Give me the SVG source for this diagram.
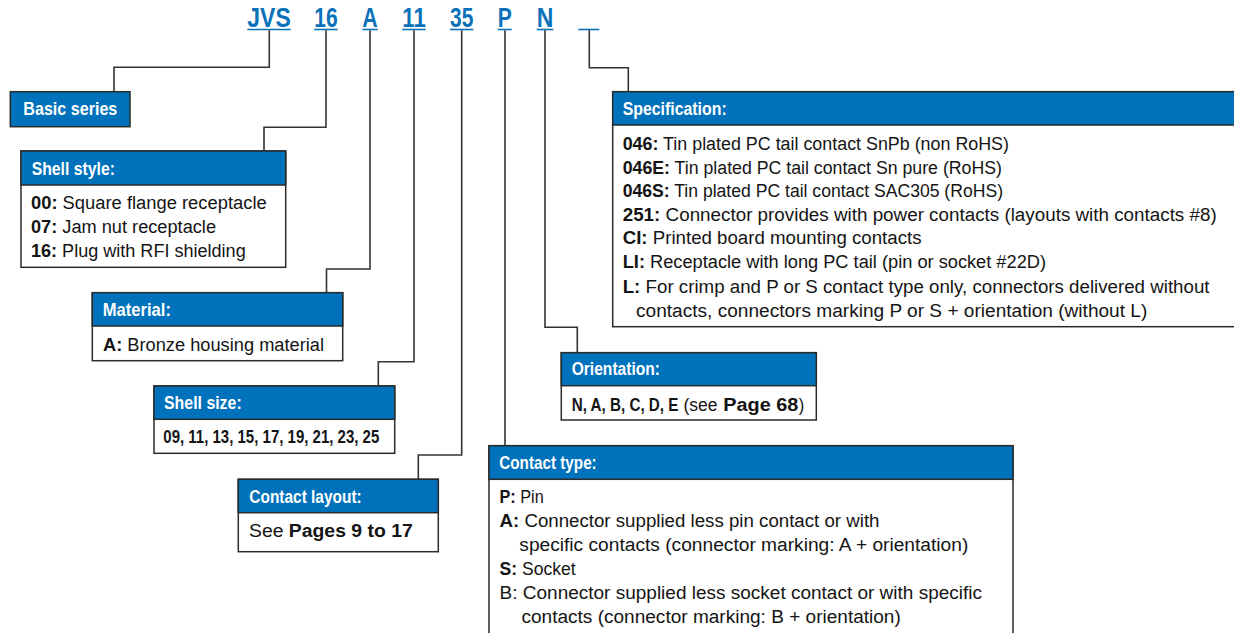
<svg xmlns="http://www.w3.org/2000/svg" width="1234" height="633" viewBox="0 0 1234 633">
<style>
.bg{fill:#fff}
.box{fill:#fff;stroke:#2a2a2a;stroke-width:1.5}
.hdr{fill:#0071bb;stroke:#2a2a2a;stroke-width:1.5}
.ht{font-family:"Liberation Sans",Arial,sans-serif;font-weight:bold;font-size:18.5px;fill:#fff}
.bt{font-family:"Liberation Sans",Arial,sans-serif;font-size:18px;fill:#141414}
.b{font-weight:bold}
.top{font-family:"Liberation Sans",Arial,sans-serif;font-weight:bold;font-size:27px;fill:#0b72ba}
.ul{stroke:#0b72ba;stroke-width:1.6}
.conn{fill:none;stroke:#333;stroke-width:1.6}
</style>
<rect class="bg" x="0" y="0" width="1234" height="633"/>

<g id="code">
  <g id="code-jvs"><text class="top" x="247.3" y="26.7" textLength="43.4" lengthAdjust="spacingAndGlyphs">JVS</text><line class="ul" x1="247.3" y1="29.5" x2="290.7" y2="29.5"/></g>
  <g id="code-16"><text class="top" x="314.3" y="26.7" textLength="23.4" lengthAdjust="spacingAndGlyphs">16</text><line class="ul" x1="314.3" y1="29.5" x2="337.7" y2="29.5"/></g>
  <g id="code-a"><text class="top" x="362.3" y="26.7" textLength="15.4" lengthAdjust="spacingAndGlyphs">A</text><line class="ul" x1="362.3" y1="29.5" x2="377.7" y2="29.5"/></g>
  <g id="code-11"><text class="top" x="402.3" y="26.7" textLength="23.4" lengthAdjust="spacingAndGlyphs">11</text><line class="ul" x1="402.3" y1="29.5" x2="425.7" y2="29.5"/></g>
  <g id="code-35"><text class="top" x="450" y="26.7" textLength="23.3" lengthAdjust="spacingAndGlyphs">35</text><line class="ul" x1="450" y1="29.5" x2="473.3" y2="29.5"/></g>
  <g id="code-p"><text class="top" x="497.7" y="26.7" textLength="14" lengthAdjust="spacingAndGlyphs">P</text><line class="ul" x1="497.7" y1="29.5" x2="511.7" y2="29.5"/></g>
  <g id="code-n"><text class="top" x="536.7" y="26.7" textLength="16.6" lengthAdjust="spacingAndGlyphs">N</text><line class="ul" x1="536.7" y1="29.5" x2="553.3" y2="29.5"/></g>
  <g id="code-blank"><line class="ul" x1="578.3" y1="29.5" x2="599.3" y2="29.5"/></g>
</g>

<g id="connectors">
  <path class="conn" d="M269.3,30.3 V67.3 H114 V91.7"/>
  <path class="conn" d="M326,30.3 V127.3 H264 V151"/>
  <path class="conn" d="M370,30.3 V269 H326.5 V292.7"/>
  <path class="conn" d="M414,30.3 V361.7 H378.3 V386"/>
  <path class="conn" d="M461.7,30.3 V455 H418.3 V479.3"/>
  <path class="conn" d="M505,30.3 V445.7"/>
  <path class="conn" d="M545,30.3 V327.3 H577.3 V352.7"/>
  <path class="conn" d="M589.3,30.3 V67.7 H628.3 V91.7"/>
</g>

<g id="basic-series">
  <rect class="hdr" x="10.3" y="91.7" width="119.7" height="35"/>
  <text class="ht" x="23.3" y="115" textLength="94" lengthAdjust="spacingAndGlyphs">Basic series</text>
</g>

<g id="shell-style">
  <rect class="box" x="21" y="151" width="264.7" height="116.3"/>
  <rect class="hdr" x="21" y="151" width="264.7" height="34"/>
  <text class="ht" x="31.7" y="175" textLength="83.3" lengthAdjust="spacingAndGlyphs">Shell style:</text>
  <text class="bt" x="31" y="209" textLength="235.7" lengthAdjust="spacingAndGlyphs"><tspan class="b">00:</tspan> Square flange receptacle</text>
  <text class="bt" x="31" y="233" textLength="185" lengthAdjust="spacingAndGlyphs"><tspan class="b">07:</tspan> Jam nut receptacle</text>
  <text class="bt" x="31" y="257" textLength="214.7" lengthAdjust="spacingAndGlyphs"><tspan class="b">16:</tspan> Plug with RFI shielding</text>
</g>

<g id="material">
  <rect class="box" x="92.3" y="292.7" width="250.4" height="68"/>
  <rect class="hdr" x="92.3" y="292.7" width="250.4" height="33.3"/>
  <text class="ht" x="102.7" y="315.7" textLength="68.3" lengthAdjust="spacingAndGlyphs">Material:</text>
  <text class="bt" x="103" y="351" textLength="221" lengthAdjust="spacingAndGlyphs"><tspan class="b">A:</tspan> Bronze housing material</text>
</g>

<g id="shell-size">
  <rect class="box" x="154" y="386" width="240.7" height="67.3"/>
  <rect class="hdr" x="154" y="386" width="240.7" height="33.3"/>
  <text class="ht" x="164" y="409.3" textLength="77.7" lengthAdjust="spacingAndGlyphs">Shell size:</text>
  <text class="bt b" x="163.3" y="442.7" textLength="216" lengthAdjust="spacingAndGlyphs">09, 11, 13, 15, 17, 19, 21, 23, 25</text>
</g>

<g id="contact-layout">
  <rect class="box" x="238.3" y="479.3" width="200" height="72.4"/>
  <rect class="hdr" x="238.3" y="479.3" width="200" height="33.4"/>
  <text class="ht" x="249.3" y="502.7" textLength="112.4" lengthAdjust="spacingAndGlyphs">Contact layout:</text>
  <text class="bt" x="249" y="536.7" textLength="163.7" lengthAdjust="spacingAndGlyphs">See <tspan class="b">Pages 9 to 17</tspan></text>
</g>

<g id="orientation">
  <rect class="box" x="561.3" y="352.7" width="255" height="67.3"/>
  <rect class="hdr" x="561.3" y="352.7" width="255" height="33"/>
  <text class="ht" x="571.7" y="375" textLength="88.3" lengthAdjust="spacingAndGlyphs">Orientation:</text>
  <text class="bt b" transform="translate(571.7,410.7) scale(0.845,1)" x="0" y="0">N, A, B, C, D, E</text>
  <text class="bt" x="683.5" y="410.7" textLength="34" lengthAdjust="spacingAndGlyphs">(see</text>
  <text class="bt b" x="723.3" y="410.7" textLength="75" lengthAdjust="spacingAndGlyphs">Page 68</text>
  <text class="bt" x="798.8" y="410.7" textLength="5.5" lengthAdjust="spacingAndGlyphs">)</text>
</g>

<g id="contact-type">
  <rect class="box" x="489" y="445.7" width="524" height="200"/>
  <rect class="hdr" x="489" y="445.7" width="524" height="33.6"/>
  <text class="ht" x="499.3" y="469.3" textLength="97.4" lengthAdjust="spacingAndGlyphs">Contact type:</text>
  <text class="bt" x="499.5" y="503.3" textLength="44.2" lengthAdjust="spacingAndGlyphs"><tspan class="b">P:</tspan> Pin</text>
  <text class="bt" x="499.5" y="527.3" textLength="380" lengthAdjust="spacingAndGlyphs"><tspan class="b">A:</tspan> Connector supplied less pin contact or with</text>
  <text class="bt" x="519.3" y="551" textLength="449" lengthAdjust="spacingAndGlyphs">specific contacts (connector marking: A + orientation)</text>
  <text class="bt" x="499.5" y="575" textLength="76.2" lengthAdjust="spacingAndGlyphs"><tspan class="b">S:</tspan> Socket</text>
  <text class="bt" x="499.6" y="599.3" textLength="482.4" lengthAdjust="spacingAndGlyphs">B: Connector supplied less socket contact or with specific</text>
  <text class="bt" x="521.5" y="623.3" textLength="379.3" lengthAdjust="spacingAndGlyphs">contacts (connector marking: B + orientation)</text>
</g>

<g id="specification">
  <rect class="box" x="612.7" y="91.7" width="640" height="235"/>
  <rect class="hdr" x="612.7" y="91.7" width="640" height="33.3"/>
  <text class="ht" x="622.7" y="115" textLength="104" lengthAdjust="spacingAndGlyphs">Specification:</text>
  <text class="bt" x="622.7" y="150" textLength="386.3" lengthAdjust="spacingAndGlyphs"><tspan class="b">046:</tspan> Tin plated PC tail contact SnPb (non RoHS)</text>
  <text class="bt" x="622.7" y="173.5" textLength="379.3" lengthAdjust="spacingAndGlyphs"><tspan class="b">046E:</tspan> Tin plated PC tail contact Sn pure (RoHS)</text>
  <text class="bt" x="622.7" y="197" textLength="380.3" lengthAdjust="spacingAndGlyphs"><tspan class="b">046S:</tspan> Tin plated PC tail contact SAC305 (RoHS)</text>
  <text class="bt" x="622.7" y="220.7" textLength="594" lengthAdjust="spacingAndGlyphs"><tspan class="b">251:</tspan> Connector provides with power contacts (layouts with contacts #8)</text>
  <text class="bt" x="622.7" y="244.3" textLength="298.8" lengthAdjust="spacingAndGlyphs"><tspan class="b">CI:</tspan> Printed board mounting contacts</text>
  <text class="bt" x="622.7" y="268.3" textLength="423.3" lengthAdjust="spacingAndGlyphs"><tspan class="b">LI:</tspan> Receptacle with long PC tail (pin or socket #22D)</text>
  <text class="bt" x="622.7" y="292.5" textLength="586.8" lengthAdjust="spacingAndGlyphs"><tspan class="b">L:</tspan> For crimp and P or S contact type only, connectors delivered without</text>
  <text class="bt" x="636" y="316.7" textLength="511.3" lengthAdjust="spacingAndGlyphs">contacts, connectors marking P or S + orientation (without L)</text>
</g>
</svg>
